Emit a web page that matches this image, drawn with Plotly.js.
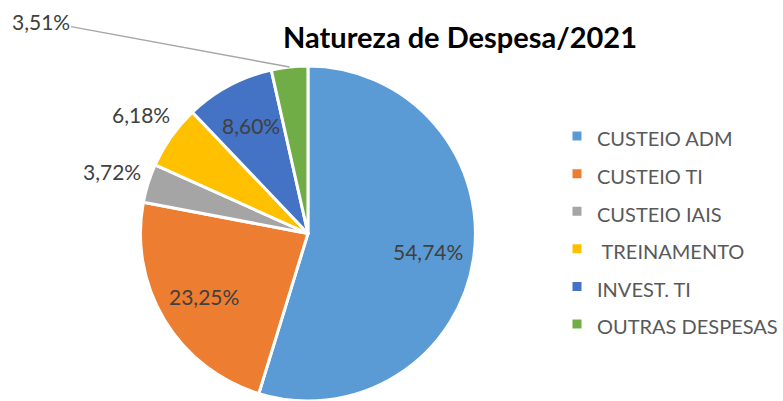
<!DOCTYPE html>
<html>
<head>
<meta charset="utf-8">
<script src="https://cdn.plot.ly/plotly-3.0.1.min.js"></script>
<style>html,body{margin:0;padding:0;background:#fff;}#chart{width:783px;height:401px;}</style>
</head>
<body>
<div id="chart"></div>
<script>
const categories = ['CUSTEIO ADM', 'CUSTEIO TI', 'CUSTEIO IAIS', '\u00a0TREINAMENTO', 'INVEST. TI', 'OUTRAS DESPESAS'];
const values = [54.74, 23.25, 3.72, 6.18, 8.60, 3.51];
const colors = ['#5B9BD5', '#ED7D31', '#A5A5A5', '#FFC000', '#4472C4', '#70AD47'];
const labelPlacement = ['inside', 'inside', 'outside', 'outside', 'inside', 'leader'];
const titleText = 'Natureza de Despesa/2021';

const W = 783, H = 401;
const domX = [0.1801, 0.6105];
const domY = [0, 0.8354];

const legendLabels = categories.map(c => '<span style="font-size:20px">' + c + '</span>');

// pie geometry (pixels) from the domain, as Plotly computes it
const total = values.reduce((a, b) => a + b, 0);
const r = Math.min((domX[1] - domX[0]) * W, (domY[1] - domY[0]) * H) / 2;
const cx = (domX[0] + domX[1]) / 2 * W;
const cy = H - (domY[0] + domY[1]) / 2 * H;
const fmtPct = v => (v / total * 100).toFixed(2).replace('.', ',') + '%';

const labelFont = {family: 'Lato, sans-serif', size: 21, color: '#404040'};
const radialFactor = {inside: 0.73, outside: 1.23, leader: 1.0};

let cum = 0;
const annotations = values.map((v, i) => {
  const mid = (cum + v / 2) / total;
  cum += v;
  const ang = mid * 2 * Math.PI;
  const f = radialFactor[labelPlacement[i]];
  const px = cx + f * r * Math.sin(ang);
  const py = cy - f * r * Math.cos(ang);
  const a = {
    xref: 'paper', yref: 'paper',
    x: px / W, y: 1 - py / H,
    xanchor: 'center', yanchor: 'middle',
    text: fmtPct(v),
    showarrow: false,
    font: labelFont
  };
  if (labelPlacement[i] === 'leader') {
    Object.assign(a, {
      showarrow: true, arrowhead: 0, arrowwidth: 1.5, arrowcolor: '#A6A6A6',
      ax: 42 - px, ay: 21 - py, axref: 'pixel', ayref: 'pixel'
    });
  }
  return a;
});

const trace = {
  type: 'pie',
  labels: legendLabels,
  values: values,
  sort: false,
  direction: 'clockwise',
  rotation: 0,
  marker: {colors: colors, line: {color: '#ffffff', width: 3}},
  textinfo: 'none',
  domain: {x: domX, y: domY},
  hoverinfo: 'none'
};

const layout = {
  width: W, height: H,
  margin: {l: 0, r: 0, t: 0, b: 0},
  paper_bgcolor: '#ffffff',
  separators: ',.',
  title: {
    text: '<b>' + titleText + '</b>',
    x: 0.5875, xanchor: 'center',
    y: 0.905, yanchor: 'middle', yref: 'paper',
    font: {family: 'Lato, sans-serif', size: 29, color: '#000000'}
  },
  showlegend: true,
  legend: {
    x: 0.715, xanchor: 'left',
    y: 0.72, yanchor: 'top',
    font: {family: 'Lato, sans-serif', size: 26.6, color: '#595959'},
    bgcolor: 'rgba(0,0,0,0)'
  },
  annotations: annotations
};

Plotly.newPlot('chart', [trace], layout, {displayModeBar: false, staticPlot: true});
</script>
</body>
</html>
